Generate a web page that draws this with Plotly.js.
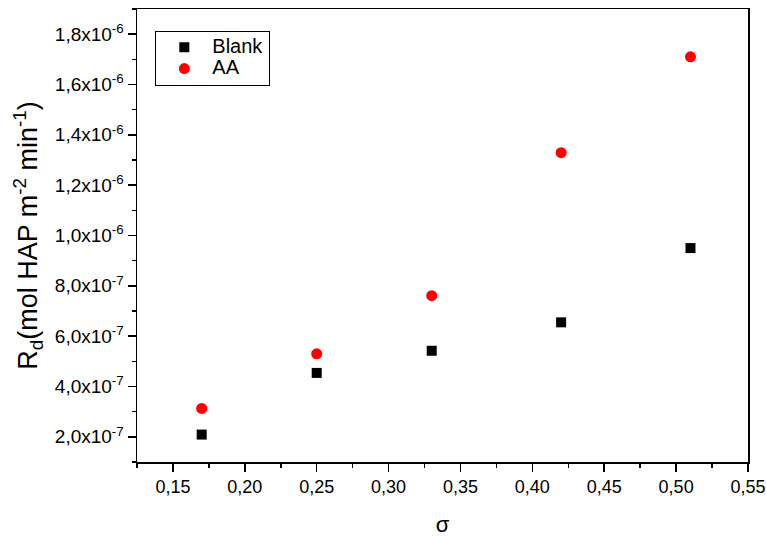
<!DOCTYPE html>
<html>
<head>
<meta charset="utf-8">
<script src="https://cdn.plot.ly/plotly-3.0.1.min.js"></script>
<style>html,body{margin:0;padding:0;background:#fff;}#chart{width:766px;height:537px;}</style>
</head>
<body>
<div id="chart"></div>
<script>
const sigma = [0.17, 0.25, 0.33, 0.42, 0.51];
const blank = [2.09e-7, 4.54e-7, 5.42e-7, 6.55e-7, 9.50e-7];
const aa = [3.13e-7, 5.30e-7, 7.61e-7, 1.329e-6, 1.710e-6];
const yTickVals = [2e-7, 4e-7, 6e-7, 8e-7, 1.0e-6, 1.2e-6, 1.4e-6, 1.6e-6, 1.8e-6];
const yTickText = ['2,0x10<sup>-7</sup>', '4,0x10<sup>-7</sup>', '6,0x10<sup>-7</sup>', '8,0x10<sup>-7</sup>',
  '1,0x10<sup>-6</sup>', '1,2x10<sup>-6</sup>', '1,4x10<sup>-6</sup>', '1,6x10<sup>-6</sup>', '1,8x10<sup>-6</sup>'];
const seriesNames = ['Blank', 'AA'];

const FONT = 'Liberation Sans, Arial, sans-serif';
const xRange = [0.125, 0.55];
const yRange = [1.0e-7, 1.9e-6];
const legendName = n => '<span style="font-size:20px">' + n + '</span>';

const traces = [
  {x: sigma, y: blank, name: legendName(seriesNames[0]), type: 'scatter', mode: 'markers',
   marker: {symbol: 'square', size: 10, color: '#000000'}},
  {x: sigma, y: aa, name: legendName(seriesNames[1]), type: 'scatter', mode: 'markers',
   marker: {symbol: 'circle', size: 11, color: '#ff0000'}}
];

const layout = {
  width: 766, height: 537,
  margin: {l: 137, r: 18, t: 9, b: 75},
  paper_bgcolor: '#ffffff', plot_bgcolor: '#ffffff',
  font: {family: FONT, color: '#000', size: 18},
  separators: ',.',
  showlegend: true,
  legend: {x: 0.03, y: 0.952, xanchor: 'left', yanchor: 'top',
    bordercolor: '#000', borderwidth: 1, bgcolor: '#fff', itemwidth: 46,
    font: {family: FONT, size: 14, color: '#000'}, tracegroupgap: 0},
  xaxis: {range: xRange, dtick: 0.05, tick0: 0.15, tickformat: '.2f',
    showline: true, linecolor: '#000', linewidth: 1.5, mirror: true,
    ticks: 'outside', ticklen: 8, tickwidth: 1.5, tickcolor: '#000',
    minor: {dtick: 0.05, tick0: 0.125, ticks: 'outside', ticklen: 4, tickwidth: 1.5, tickcolor: '#000'},
    showgrid: false, zeroline: false, automargin: false,
    tickfont: {family: FONT, size: 18, color: '#000'},
    title: {text: 'σ', font: {family: FONT, size: 22, color: '#000'}, standoff: 29}},
  yaxis: {range: yRange, tickmode: 'array', tickvals: yTickVals, ticktext: yTickText,
    showline: true, linecolor: '#000', linewidth: 1.5, mirror: true,
    ticks: 'outside', ticklen: 8, tickwidth: 1.5, tickcolor: '#000',
    minor: {dtick: 2e-7, tick0: 1e-7, ticks: 'outside', ticklen: 4, tickwidth: 1.5, tickcolor: '#000'},
    showgrid: false, zeroline: false,
    tickfont: {family: FONT, size: 19, color: '#000'},
    title: {text: 'R<sub>d</sub>(mol HAP m<sup>-2</sup> min<sup>-1</sup>)', font: {family: FONT, size: 27, color: '#000'}, standoff: 9}},
  xaxis2: {range: xRange, overlaying: 'x', side: 'top', anchor: 'y', dtick: 0.05, tick0: 0.15,
    showline: false, ticks: 'outside', ticklen: 2, tickwidth: 1, tickcolor: '#777',
    minor: {dtick: 0.05, tick0: 0.125, ticks: 'outside', ticklen: 2, tickwidth: 1, tickcolor: '#777'},
    showticklabels: false, showgrid: false, zeroline: false},
  yaxis2: {range: yRange, overlaying: 'y', side: 'right', anchor: 'x', tickmode: 'array', tickvals: yTickVals,
    showline: false, ticks: 'outside', ticklen: 2, tickwidth: 1, tickcolor: '#777',
    minor: {dtick: 2e-7, tick0: 1e-7, ticks: 'outside', ticklen: 2, tickwidth: 1, tickcolor: '#777'},
    showticklabels: false, showgrid: false, zeroline: false}
};

Plotly.newPlot('chart', traces, layout, {displayModeBar: false, staticPlot: true});
</script>
</body>
</html>
